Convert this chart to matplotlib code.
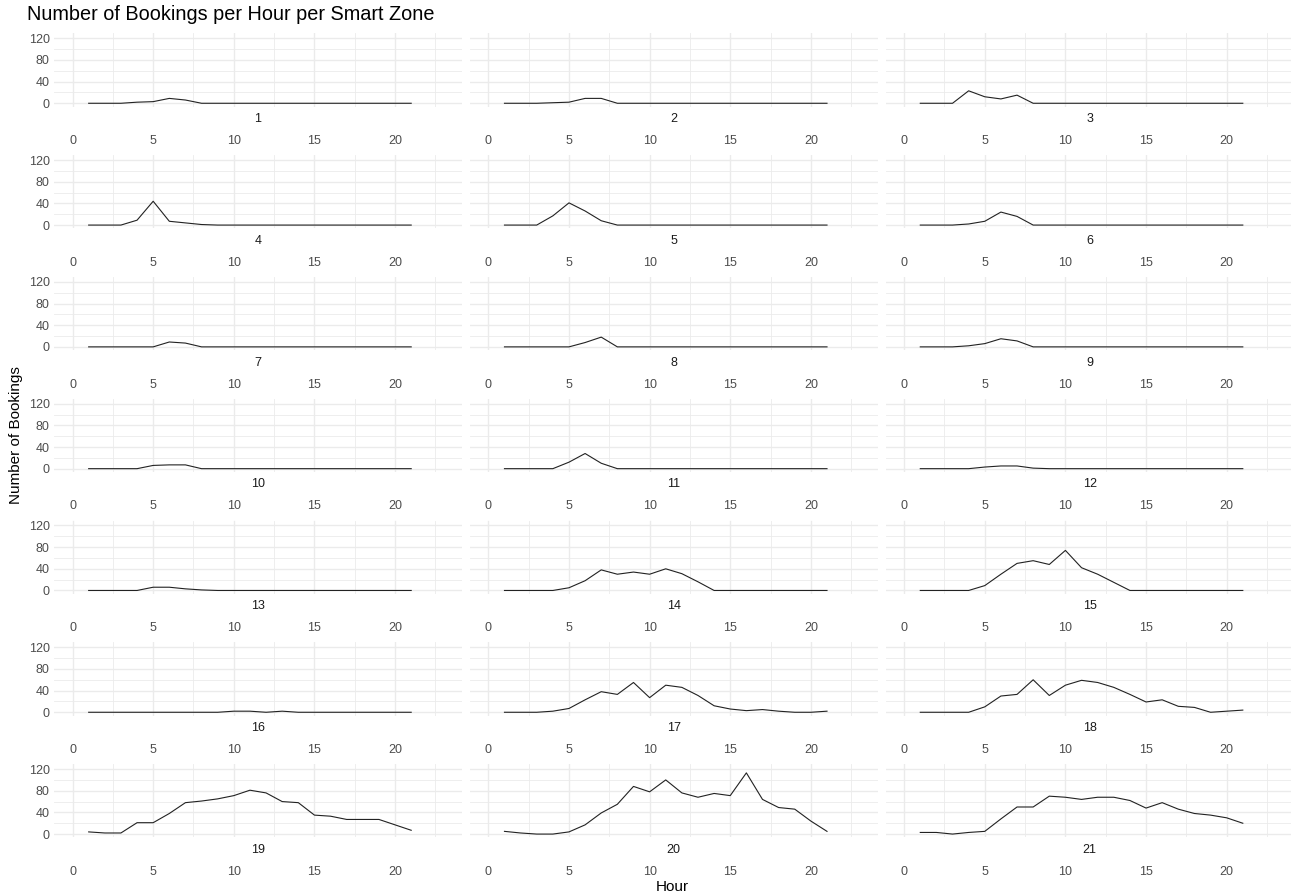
import matplotlib.pyplot as plt
import numpy as np

# Bookings per hour, one list per smart zone (hours 1..21)
hours = list(range(1, 22))

zone_1 = [0, 0, 0, 2, 3, 9, 6, 0, 0, 0, 0, 0, 0, 0, 0, 0, 0, 0, 0, 0, 0]
zone_2 = [0, 0, 0, 1, 2, 9, 9, 0, 0, 0, 0, 0, 0, 0, 0, 0, 0, 0, 0, 0, 0]
zone_3 = [0, 0, 0, 23, 12, 8, 15, 0, 0, 0, 0, 0, 0, 0, 0, 0, 0, 0, 0, 0, 0]
zone_4 = [0, 0, 0, 9, 44, 7, 4, 1, 0, 0, 0, 0, 0, 0, 0, 0, 0, 0, 0, 0, 0]
zone_5 = [0, 0, 0, 17, 41, 26, 8, 0, 0, 0, 0, 0, 0, 0, 0, 0, 0, 0, 0, 0, 0]
zone_6 = [0, 0, 0, 2, 7, 24, 16, 0, 0, 0, 0, 0, 0, 0, 0, 0, 0, 0, 0, 0, 0]
zone_7 = [0, 0, 0, 0, 0, 9, 7, 0, 0, 0, 0, 0, 0, 0, 0, 0, 0, 0, 0, 0, 0]
zone_8 = [0, 0, 0, 0, 0, 8, 18, 0, 0, 0, 0, 0, 0, 0, 0, 0, 0, 0, 0, 0, 0]
zone_9 = [0, 0, 0, 2, 6, 15, 11, 0, 0, 0, 0, 0, 0, 0, 0, 0, 0, 0, 0, 0, 0]
zone_10 = [0, 0, 0, 0, 6, 7, 7, 0, 0, 0, 0, 0, 0, 0, 0, 0, 0, 0, 0, 0, 0]
zone_11 = [0, 0, 0, 0, 12, 28, 10, 0, 0, 0, 0, 0, 0, 0, 0, 0, 0, 0, 0, 0, 0]
zone_12 = [0, 0, 0, 0, 3, 5, 5, 1, 0, 0, 0, 0, 0, 0, 0, 0, 0, 0, 0, 0, 0]
zone_13 = [0, 0, 0, 0, 6, 6, 3, 1, 0, 0, 0, 0, 0, 0, 0, 0, 0, 0, 0, 0, 0]
zone_14 = [0, 0, 0, 0, 5, 18, 38, 30, 34, 30, 40, 31, 16, 0, 0, 0, 0, 0, 0, 0, 0]
zone_15 = [0, 0, 0, 0, 9, 30, 50, 55, 48, 74, 42, 30, 15, 0, 0, 0, 0, 0, 0, 0, 0]
zone_16 = [0, 0, 0, 0, 0, 0, 0, 0, 0, 2, 2, 0, 2, 0, 0, 0, 0, 0, 0, 0, 0]
zone_17 = [0, 0, 0, 2, 7, 23, 38, 33, 55, 27, 50, 46, 31, 12, 6, 3, 5, 2, 0, 0, 2]
zone_18 = [0, 0, 0, 0, 10, 30, 33, 60, 31, 50, 59, 55, 46, 33, 19, 23, 11, 9, 0, 2, 4]
zone_19 = [4, 2, 2, 21, 21, 38, 58, 61, 65, 71, 81, 76, 60, 58, 35, 33, 27, 27, 27, 17, 7]
zone_20 = [5, 2, 0, 0, 4, 17, 39, 55, 88, 78, 100, 76, 68, 75, 71, 113, 64, 49, 46, 24, 5]
zone_21 = [3, 3, 0, 3, 5, 28, 50, 50, 70, 68, 64, 68, 68, 62, 48, 58, 46, 38, 35, 30, 20]

zones = [zone_1, zone_2, zone_3, zone_4, zone_5, zone_6, zone_7, zone_8, zone_9,
         zone_10, zone_11, zone_12, zone_13, zone_14, zone_15, zone_16, zone_17,
         zone_18, zone_19, zone_20, zone_21]
zone_labels = [str(i) for i in range(1, 22)]

plt.rcParams['font.family'] = ['Liberation Sans', 'DejaVu Sans']

W, H = 1291, 896
fig = plt.figure(figsize=(W / 100, H / 100), dpi=100)

# panel geometry in pixels
left0, col_step, pw = 54, 415.8, 408
top0, row_step, ph = 33.3, 121.8, 73.3

for i, vals in enumerate(zones):
    r, c = divmod(i, 3)
    x0 = left0 + c * col_step
    y0 = top0 + r * row_step
    ax = fig.add_axes([x0 / W, 1 - (y0 + ph) / H, pw / W, ph / H])
    ax.plot(hours, vals, color='#222222', lw=0.8)
    ax.set_xlim(-1.15, 24.15)
    ax.set_ylim(-6.15, 129.2)
    ax.set_xticks([0, 5, 10, 15, 20])
    ax.set_xticks([2.5, 7.5, 12.5, 17.5, 22.5], minor=True)
    ax.set_yticks([0, 40, 80, 120])
    ax.set_yticks([20, 60, 100], minor=True)
    ax.grid(which='major', color='#EBEBEB', lw=1.0)
    ax.grid(which='minor', color='#EBEBEB', lw=0.6)
    ax.set_axisbelow(True)
    for s in ax.spines.values():
        s.set_visible(False)
    ax.tick_params(which='both', length=0)
    ax.tick_params(axis='x', labelsize=9, labelcolor='#4D4D4D', pad=20.5)
    ax.tick_params(axis='y', labelsize=9, labelcolor='#4D4D4D', pad=3)
    if c != 0:
        ax.set_yticklabels([])
    # strip label under the panel
    ax.text(0.5, -0.17, zone_labels[i], transform=ax.transAxes,
            ha='center', va='center', fontsize=9, color='#1A1A1A')

fig.text(27 / W, 1 - 15 / H, 'Number of Bookings per Hour per Smart Zone',
         ha='left', va='center', fontsize=14.3, color='#000000')
fig.text(672 / W, 1 - 887 / H, 'Hour', ha='center', va='center', fontsize=11)
fig.text(16 / W, 1 - 435 / H, 'Number of Bookings', ha='center', va='center',
         rotation=90, fontsize=11)

plt.savefig('out.png', dpi=100)
